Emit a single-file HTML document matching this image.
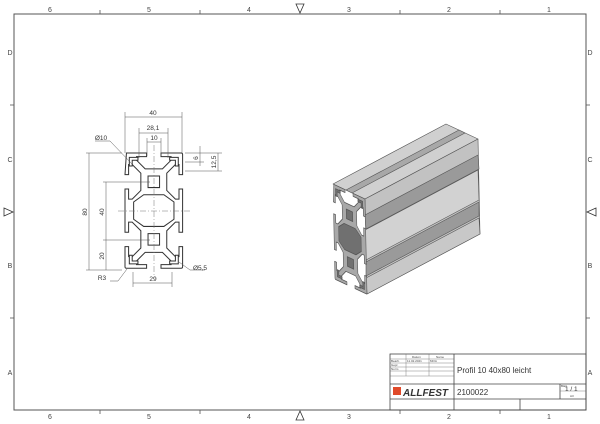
<!DOCTYPE html>
<html><head><meta charset="utf-8"><style>
html,body{margin:0;padding:0;background:#fff;}
svg{display:block;font-family:"Liberation Sans",sans-serif;}
</style></head><body>
<svg width="600" height="424" viewBox="0 0 600 424" xmlns="http://www.w3.org/2000/svg">
<defs>
<path id="prof" d="M1,0 L15,0 L15,2.5 L8,2.5 L8,5 L14,11 L26,11 L32,5 L32,2.5 L25,2.5 L25,0 L39,0 Q40,0 40,1 L40,15 L37.5,15 L37.5,8 L35,8 L29,14 L29,26 L35,32 L37.5,32 L37.5,25 L40,25 L40,55 L37.5,55 L37.5,48 L35,48 L29,54 L29,66 L35,72 L37.5,72 L37.5,65 L40,65 L40,79 Q40,80 39,80 L25,80 L25,77.5 L32,77.5 L32,75 L26,69 L14,69 L8,75 L8,77.5 L15,77.5 L15,80 L1,80 Q0,80 0,79 L0,65 L2.5,65 L2.5,72 L5,72 L11,66 L11,54 L5,48 L2.5,48 L2.5,55 L0,55 L0,25 L2.5,25 L2.5,32 L5,32 L11,26 L11,14 L5,8 L2.5,8 L2.5,15 L0,15 Z"/>
<path id="holes" d="M16,16 h8 v8 h-8 Z M16,56 h8 v8 h-8 Z M13,29 L27,29 L34,34 L34,46 L27,51 L13,51 L6,46 L6,34 Z M3,3 h6 v2 h-4 v4 h-2 Z M37,3 h-6 v2 h4 v4 h2 Z M3,77 h6 v-2 h-4 v-4 h-2 Z M37,77 h-6 v-2 h4 v-4 h2 Z"/>
</defs>
<rect x="14" y="14" width="572" height="396" fill="none" stroke="#555" stroke-width="1"/>
<g stroke="#555" stroke-width="0.8">
<line x1="100" y1="10" x2="100" y2="14"/><line x1="200" y1="10" x2="200" y2="14"/><line x1="400" y1="10" x2="400" y2="14"/><line x1="500" y1="10" x2="500" y2="14"/>
<line x1="100" y1="410" x2="100" y2="414"/><line x1="200" y1="410" x2="200" y2="414"/><line x1="400" y1="410" x2="400" y2="414"/><line x1="500" y1="410" x2="500" y2="414"/>
<line x1="10" y1="105" x2="14" y2="105"/><line x1="10" y1="318" x2="14" y2="318"/>
<line x1="586" y1="105" x2="590" y2="105"/><line x1="586" y1="318" x2="590" y2="318"/>
</g>
<g fill="none" stroke="#333" stroke-width="0.8">
<path d="M296,4 L304,4 L300,13 Z"/><path d="M296,420 L304,420 L300,411 Z"/>
<path d="M4,208 L4,216 L13,212 Z"/><path d="M596,208 L596,216 L587,212 Z"/>
</g>
<g font-size="7" fill="#444" text-anchor="middle">
<text x="50" y="12">6</text><text x="149" y="12">5</text><text x="249" y="12">4</text><text x="349" y="12">3</text><text x="449" y="12">2</text><text x="549" y="12">1</text>
<text x="50" y="419">6</text><text x="149" y="419">5</text><text x="249" y="419">4</text><text x="349" y="419">3</text><text x="449" y="419">2</text><text x="549" y="419">1</text>
<text x="10" y="55">D</text><text x="10" y="162">C</text><text x="10" y="268">B</text><text x="10" y="375">A</text>
<text x="590" y="55">D</text><text x="590" y="162">C</text><text x="590" y="268">B</text><text x="590" y="375">A</text>
</g>

<g transform="translate(125,153) scale(1.44)" fill="#fff" stroke="#333" stroke-width="0.7">
<use href="#prof"/>
<use href="#holes" fill="#fff"/>
</g>
<g stroke="#777" stroke-width="0.5" stroke-dasharray="6,2,1,2">
<line x1="154" y1="145" x2="154" y2="278"/>
<line x1="118" y1="211" x2="190" y2="211"/>
</g>
<g stroke="#555" stroke-width="0.5" fill="none">
<line x1="125" y1="112" x2="125" y2="153"/><line x1="182" y1="112" x2="182" y2="153"/><line x1="125" y1="117" x2="182" y2="117"/>
<line x1="139" y1="128" x2="139" y2="158"/><line x1="168" y1="128" x2="168" y2="158"/><line x1="139" y1="133" x2="168" y2="133"/>
<line x1="147" y1="138" x2="147" y2="156"/><line x1="161" y1="138" x2="161" y2="156"/><line x1="147" y1="142" x2="161" y2="142"/>
<line x1="185" y1="153" x2="222" y2="153"/><line x1="185" y1="162" x2="204" y2="162"/><line x1="185" y1="171" x2="222" y2="171"/>
<line x1="200" y1="146" x2="200" y2="166"/><line x1="218" y1="153" x2="218" y2="171"/>
<line x1="86" y1="153" x2="122" y2="153"/><line x1="86" y1="270" x2="122" y2="270"/><line x1="89" y1="153" x2="89" y2="270"/>
<line x1="103" y1="182" x2="150" y2="182"/><line x1="103" y1="240" x2="150" y2="240"/><line x1="106" y1="182" x2="106" y2="270"/>
<line x1="133" y1="272" x2="133" y2="287"/><line x1="172" y1="272" x2="172" y2="287"/><line x1="133" y1="283" x2="172" y2="283"/>
<path d="M95,141 L110,141 L132,164"/>
<path d="M110,281 L118,281 L127,269"/>
<path d="M205,270 L190,270 L179,262"/>
</g>
<g font-size="6.5" fill="#333" text-anchor="middle">
<text x="153" y="115">40</text><text x="153" y="130">28,1</text><text x="154" y="140">10</text>
<text x="101" y="140">Ø10</text>
<text transform="translate(198,158) rotate(-90)">6</text>
<text transform="translate(216,162) rotate(-90)">12,5</text>
<text transform="translate(87,212) rotate(-90)">80</text>
<text transform="translate(104,212) rotate(-90)">40</text>
<text transform="translate(104,256) rotate(-90)">20</text>
<text x="153" y="281">29</text>
<text x="102" y="280">R3</text>
<text x="200" y="270">Ø5,5</text>
</g>

<g stroke="#555" stroke-width="0.6" stroke-linejoin="round">
<polygon points="333,184 365,199 478,139 446,124" fill="#d0d0d0"/>
<polygon points="346,190 352,193 465,133 459,130" fill="#a8a8a8"/>
<polygon points="365,199 367,294 480,234 478,139" fill="#c2c2c2"/>
<polygon points="365,215 366,229 479,169 478,155" fill="#9a9a9a"/>
<polygon points="366,262 366,276 479,216 479,202" fill="#9a9a9a"/>
<polygon points="365,230 366,260 479,200 478,170" fill="#d2d2d2"/>
<polygon points="366,278 367,294 480,234 479,218" fill="#c8c8c8"/>
<g transform="matrix(0.8,0.375,0.025,1.19,333,184)" stroke-width="0.7">
<use href="#prof" fill="#a8a8a8"/>
<use href="#holes" fill="#707070"/>
</g>
</g>

<g stroke="#444" stroke-width="0.8" fill="none">
<rect x="390" y="354" width="196" height="56"/>
<line x1="390" y1="384" x2="586" y2="384"/>
<line x1="390" y1="399" x2="586" y2="399"/>
<line x1="454" y1="354" x2="454" y2="410"/>
<line x1="520" y1="399" x2="520" y2="410"/>
<line x1="560" y1="384" x2="560" y2="399"/>
</g>
<g stroke="#666" stroke-width="0.4">
<line x1="390" y1="359" x2="454" y2="359"/><line x1="390" y1="363" x2="454" y2="363"/><line x1="390" y1="367" x2="454" y2="367"/><line x1="390" y1="371" x2="454" y2="371"/><line x1="390" y1="376" x2="454" y2="376"/>
<line x1="406" y1="354" x2="406" y2="376"/><line x1="429" y1="354" x2="429" y2="376"/>
<line x1="560" y1="391" x2="586" y2="391"/>
</g>
<g font-size="3" fill="#444">
<text x="412" y="358">Datum</text><text x="436" y="358">Name</text>
<text x="391" y="362">Bearb.</text><text x="407" y="362">11.02.2021</text><text x="430" y="362">MOA</text>
<text x="391" y="366">Gepr.</text><text x="391" y="370">Norm</text>
<text x="561" y="387">Blatt</text><text x="570" y="397">A3</text>
</g>
<text x="457" y="373" font-size="8" fill="#333">Profil 10 40x80 leicht</text>
<text x="457" y="395" font-size="8" fill="#333">2100022</text>
<text x="565" y="391" font-size="6.5" fill="#333">1 / 1</text>
<rect x="393" y="387" width="8" height="8" fill="#e04a2a"/>
<text x="403" y="396" font-size="10" font-weight="bold" font-style="italic" fill="#333">ALLFEST</text>
</svg>
</body></html>
